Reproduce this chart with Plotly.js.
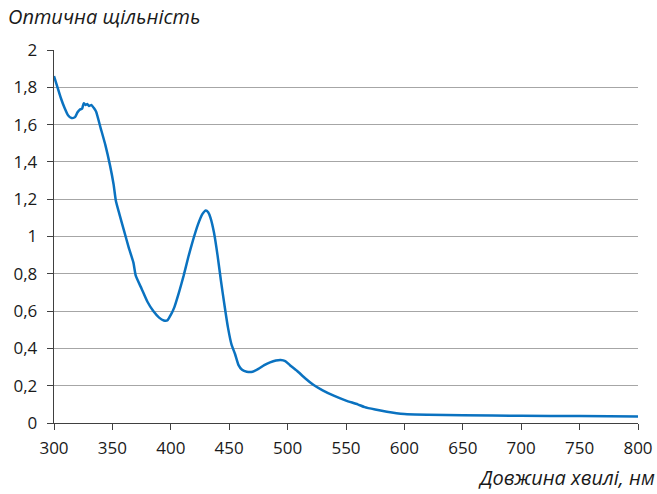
<!DOCTYPE html>
<html>
<head>
<meta charset="utf-8">
<script src="https://cdn.plot.ly/plotly-3.0.1.min.js"></script>
<style>
  html, body { margin: 0; padding: 0; background: #fff; }
  #chart { width: 657px; height: 494px; }
</style>
</head>
<body>
<div id="chart"></div>
<script>
// Absorption spectrum: wavelength (nm) vs optical density
const wavelength = [300, 303, 306, 309, 312, 315, 318, 320, 322, 324, 325.5, 327, 328.5, 330, 332, 334, 336, 340, 344, 348, 351, 353, 356, 360, 364, 368, 370, 375, 380, 385, 390, 394, 397, 400, 403, 407, 411, 415, 419, 423, 427, 430, 432, 434, 437, 440, 443, 446, 449, 452, 455, 458, 461, 465, 470, 475, 480, 485, 490, 494, 498, 502, 508, 515, 522, 530, 540, 550, 560, 566, 575, 585, 600, 620, 650, 700, 750, 800];
const density = [1.86, 1.80, 1.74, 1.69, 1.65, 1.635, 1.64, 1.665, 1.68, 1.685, 1.715, 1.705, 1.71, 1.70, 1.705, 1.69, 1.67, 1.58, 1.49, 1.38, 1.28, 1.19, 1.12, 1.03, 0.94, 0.86, 0.79, 0.72, 0.65, 0.60, 0.565, 0.55, 0.55, 0.58, 0.62, 0.70, 0.79, 0.89, 0.98, 1.06, 1.12, 1.14, 1.13, 1.10, 1.02, 0.90, 0.76, 0.63, 0.51, 0.42, 0.37, 0.31, 0.285, 0.275, 0.275, 0.29, 0.31, 0.325, 0.335, 0.338, 0.332, 0.31, 0.28, 0.24, 0.205, 0.175, 0.145, 0.12, 0.10, 0.085, 0.072, 0.06, 0.048, 0.044, 0.041, 0.039, 0.037, 0.035];

const yTitle = 'Оптична щільність';
const xTitle = 'Довжина хвилі, нм';

const fontFamily = '"Open Sans", "Noto Sans", sans-serif';

const trace = {
  x: wavelength,
  y: density,
  type: 'scatter',
  mode: 'lines',
  line: { color: '#0a72c0', width: 2.5, shape: 'spline', smoothing: 0.5 },
  hoverinfo: 'skip'
};

const layout = {
  width: 657,
  height: 494,
  margin: { l: 54, r: 19, t: 50, b: 71 },
  paper_bgcolor: '#ffffff',
  plot_bgcolor: '#ffffff',
  separators: ',.',
  showlegend: false,
  font: { family: fontFamily, size: 17, color: '#1a1a1a' },
  xaxis: {
    range: [300, 800],
    dtick: 50,
    tick0: 300,
    ticks: 'outside',
    ticklen: 6,
    tickwidth: 1,
    tickcolor: '#404040',
    ticklabelstandoff: 3,
    showline: true,
    linecolor: '#404040',
    linewidth: 1.3,
    showgrid: false,
    zeroline: false,
    fixedrange: true,
    tickfont: { family: fontFamily, size: 17, color: '#1a1a1a' }
  },
  yaxis: {
    range: [0, 2],
    dtick: 0.2,
    tick0: 0,
    ticks: 'outside',
    ticklen: 6,
    tickwidth: 1,
    tickcolor: '#404040',
    ticklabelstandoff: 6,
    showline: true,
    linecolor: '#404040',
    linewidth: 1.3,
    showgrid: true,
    gridcolor: '#a6a6a6',
    gridwidth: 1,
    zeroline: false,
    fixedrange: true,
    tickfont: { family: fontFamily, size: 17, color: '#1a1a1a' }
  },
  annotations: [
    {
      text: '<i>' + yTitle + '</i>',
      xref: 'paper', yref: 'paper',
      x: 0, y: 1.0, xshift: -48, yshift: 18,
      xanchor: 'left', yanchor: 'bottom',
      showarrow: false,
      font: { family: fontFamily, size: 20, color: '#1a1a1a' }
    },
    {
      text: '<i>' + xTitle + '</i>',
      xref: 'paper', yref: 'paper',
      x: 1.0, y: 0, xshift: 19, yshift: -39,
      xanchor: 'right', yanchor: 'top',
      showarrow: false,
      font: { family: fontFamily, size: 20, color: '#1a1a1a' }
    }
  ]
};

Plotly.newPlot('chart', [trace], layout, { displayModeBar: false, staticPlot: true });
</script>
</body>
</html>
